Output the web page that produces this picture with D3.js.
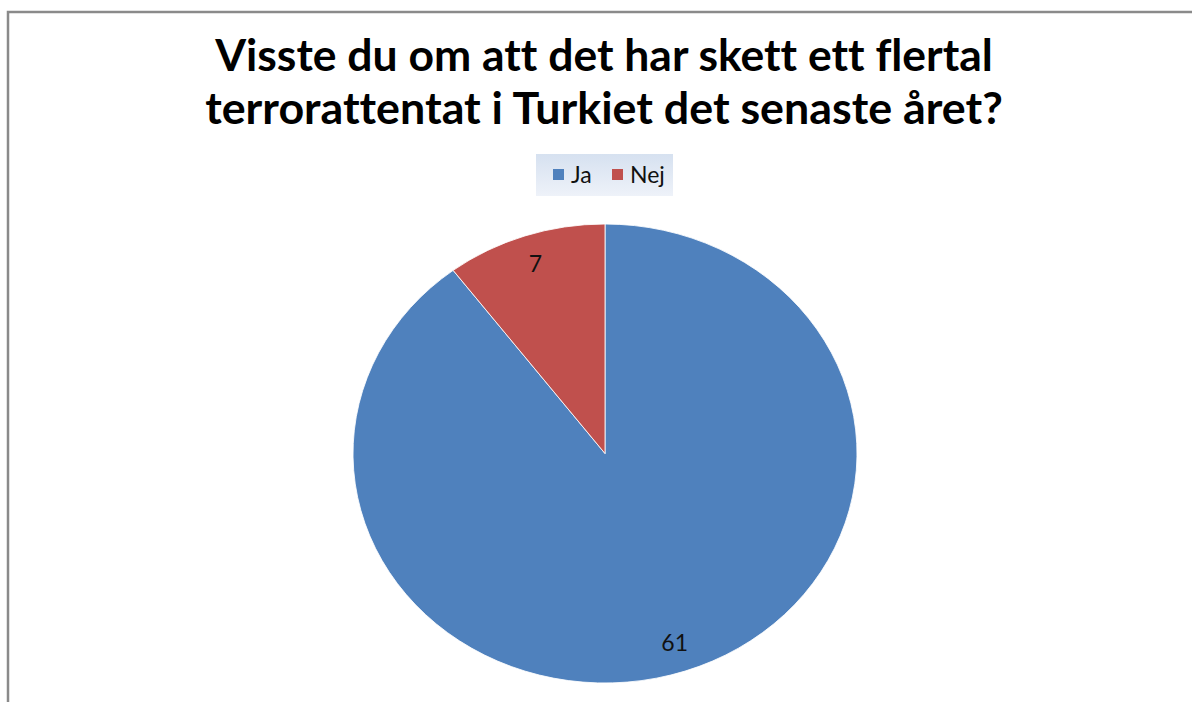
<!DOCTYPE html>
<html>
<head>
<meta charset="utf-8">
<script src="https://cdn.jsdelivr.net/npm/d3@7"></script>
<style>
  html, body { margin: 0; padding: 0; background: #fff; }
  svg { display: block; }
  text { font-family: Lato, "Open Sans", sans-serif; font-variant-ligatures: none; font-feature-settings: "liga" 0, "clig" 0; }
</style>
</head>
<body>
<svg id="chart" width="1192" height="702"></svg>
<script>
// Data
const categories = ['Ja', 'Nej'];
const values = [61, 7];
const colors = ['#4F81BD', '#C0504D'];
const titleLines = ['Visste du om att det har skett ett flertal', 'terrorattentat i Turkiet det senaste året?'];

(function(){
  const W = 1192, H = 702;
  const svg = d3.select('#chart');

  // ram (bara vänster och topp syns)
  svg.append('rect')
    .attr('x', 8).attr('y', 12)
    .attr('width', W + 20).attr('height', H + 20)
    .attr('fill', '#fff')
    .attr('stroke', '#8a8a8a').attr('stroke-width', 2.5);

  // Titel – skala typsnittet så att raderna får samma bredd som förlagan
  const titleWidths = [778, 798];
  const titleBaselines = [71, 124];
  titleLines.forEach((t, i) => {
    const txt = svg.append('text')
      .attr('x', 604).attr('y', titleBaselines[i])
      .attr('text-anchor', 'middle')
      .attr('font-weight', 'bold')
      .attr('font-size', 36)
      .attr('fill', '#000')
      .text(t);
    const w = txt.node().getComputedTextLength();
    txt.attr('font-size', 36 * titleWidths[i] / w);
  });

  // Förklaring
  const defs = svg.append('defs');
  const grad = defs.append('linearGradient').attr('id', 'legGrad')
    .attr('x1', 0).attr('y1', 0).attr('x2', 0).attr('y2', 1);
  grad.append('stop').attr('offset', '0%').attr('stop-color', '#d6e1f0');
  grad.append('stop').attr('offset', '100%').attr('stop-color', '#eef2f9');

  svg.append('rect')
    .attr('x', 536).attr('y', 154).attr('width', 137).attr('height', 42)
    .attr('fill', 'url(#legGrad)');

  const legendX = [553, 612];
  const leg = svg.append('g').selectAll('g')
    .data(categories)
    .join('g')
    .attr('transform', (d, i) => `translate(${legendX[i]},169)`);
  leg.append('rect')
    .attr('width', 11).attr('height', 11)
    .attr('fill', (d, i) => colors[i]);
  leg.append('text')
    .attr('x', 18).attr('y', 14)
    .attr('font-size', 23)
    .attr('fill', '#111')
    .text(d => d);

  // Tårtdiagram (något utdraget i x-led som i förlagan)
  const cx = 605, cy = 453.5, rx = 252, ry = 229.5;
  const sx = rx / ry;

  const pie = d3.pie().sort(null).value(d => d)(values);
  const arc = d3.arc().innerRadius(0).outerRadius(ry);
  const labelArc = d3.arc().innerRadius(ry * 0.87).outerRadius(ry * 0.87);

  const g = svg.append('g').attr('transform', `translate(${cx},${cy})`);
  g.append('g').attr('transform', `scale(${sx},1)`)
    .selectAll('path')
    .data(pie)
    .join('path')
    .attr('d', arc)
    .attr('fill', (d, i) => colors[i])
    .attr('stroke', '#fff')
    .attr('stroke-width', 0.8);

  g.selectAll('text.lbl')
    .data(pie)
    .join('text')
    .attr('class', 'lbl')
    .attr('x', d => labelArc.centroid(d)[0] * sx)
    .attr('y', d => labelArc.centroid(d)[1])
    .attr('dy', '0.35em')
    .attr('text-anchor', 'middle')
    .attr('font-size', 23)
    .attr('fill', '#111')
    .text(d => d.data);
})();
</script>
</body>
</html>
